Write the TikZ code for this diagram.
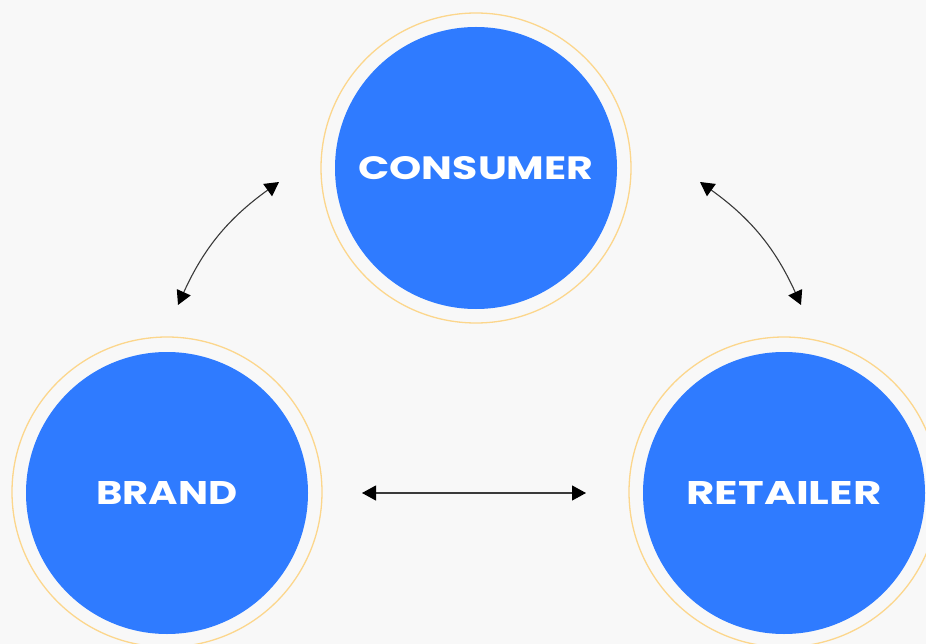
\documentclass[tikz,border=0pt]{standalone}
\usepackage{fontspec}
\usepackage{graphicx}
\setmainfont{Poppins}
\usetikzlibrary{arrows.meta}
\definecolor{paper}{HTML}{F8F8F8}
\definecolor{ringcol}{HTML}{FCD68C}
\definecolor{hubcol}{HTML}{2F7BFF}
\definecolor{linkcol}{HTML}{3A3A3A}
\begin{document}
\begin{tikzpicture}[x=1pt,y=-1pt,
  hub/.style={circle, fill=hubcol, minimum size=282pt, inner sep=0pt, text=white, font=\bfseries},
  halo/.style={circle, draw=ringcol, line width=1.3pt, minimum size=310pt, inner sep=0pt},
  link/.style={draw=linkcol, line width=1.1pt,
    {Triangle[length=14pt,width=15pt,color=black]}-{Triangle[length=14pt,width=15pt,color=black]}}]
  % canvas
  \clip (0,0) rectangle (926,644);
  \fill[paper] (0,0) rectangle (926,644);
  \useasboundingbox (0,0) rectangle (926,644);

  % outer rings
  \node[halo] (consumerRing) at (476,168) {};
  \node[halo] (brandRing) at (167,492) {};
  \node[halo] (retailerRing) at (784,492) {};

  % filled hubs with labels
  \node[hub] (consumer) at (476,168) {\resizebox{235pt}{23pt}{CONSUMER}};
  \node[hub] (brand) at (167,493) {\resizebox{141pt}{23pt}{BRAND}};
  \node[hub] (retailer) at (784,493) {\resizebox{195pt}{23pt}{RETAILER}};

  % connector end points
  \coordinate (bcLow) at (178,305);
  \coordinate (bcHigh) at (279,182);
  \coordinate (crHigh) at (700,182);
  \coordinate (crLow) at (801,305);
  \coordinate (brLeft) at (362,493);
  \coordinate (brRight) at (586,493);

  % two-way links
  \draw[link] (bcLow) to[bend left=15] (bcHigh);
  \draw[link] (crHigh) to[bend left=15] (crLow);
  \draw[link] (brLeft) -- (brRight);
\end{tikzpicture}
\end{document}
